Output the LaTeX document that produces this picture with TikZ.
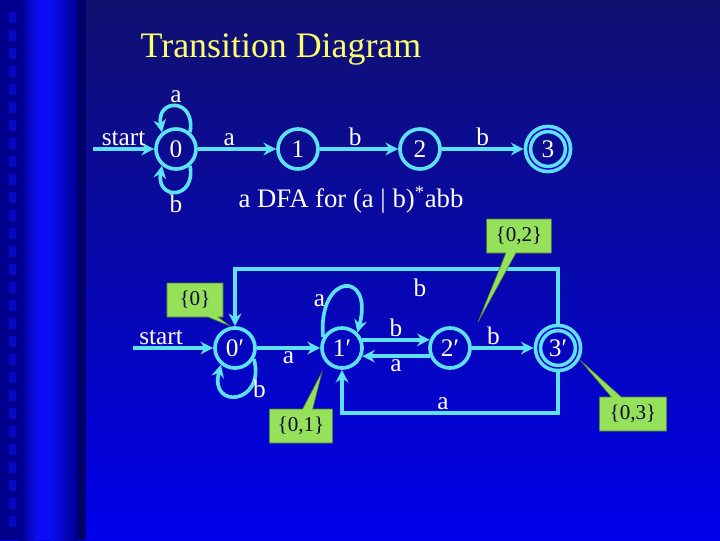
\documentclass[tikz,border=0pt]{standalone}
\usepackage{fontspec}
\setmainfont{Liberation Serif}
\definecolor{slideNavy}{RGB}{16,16,112}
\definecolor{slideBlue}{RGB}{0,0,236}
\definecolor{stripDark}{RGB}{0,0,140}
\definecolor{stripBright}{RGB}{12,12,245}
\definecolor{stateCyan}{RGB}{95,225,245}
\definecolor{noteGreen}{RGB}{150,225,90}
\definecolor{titleYellow}{RGB}{255,255,110}
\usetikzlibrary{arrows.meta,shapes.callouts,calc}

\begin{document}
\begin{tikzpicture}[x=0.025cm,y=-0.025cm,
  state/.style={circle,draw=stateCyan,line width=2.6pt,minimum size=1cm,inner sep=0pt,
    text=white,font=\fontsize{18}{20}\selectfont},
  final/.style={state,double=slideBlue!75!slideNavy,double distance=1pt,outer sep=3.1pt},
  edge/.style={draw=stateCyan,line width=2.6pt,-{Stealth[length=9pt,width=9pt]}},
  lbl/.style={text=white,font=\fontsize{18}{20}\selectfont,inner sep=1pt},
  note/.style={rectangle callout,fill=noteGreen,draw=noteGreen!55!black,line width=0.4pt,
    text=slideNavy!50!black,font=\fontsize{15}{17}\selectfont,minimum height=0.85cm,minimum width=1.4cm}]
  \useasboundingbox (0,0) rectangle (720,540);
  % background of the slide
  \shade[top color=slideNavy,bottom color=slideBlue] (0,0) rectangle (720,540);
  \fill[stripDark] (0,0) rectangle (20,540);
  \shade[left color=stripDark,right color=stripBright] (20,0) rectangle (38,540);
  \fill[stripBright] (38,0) rectangle (50,540);
  \shade[left color=stripBright,right color=stripDark] (50,0) rectangle (78,540);
  \fill[stripDark!75!black] (78,0) rectangle (86,540);
  \foreach \y in {12,30,...,530}
    \fill[stripBright!55!stripDark] (9,\y) rectangle (16,\y+11);

  % title
  \node[text=titleYellow,font=\fontsize{25.5}{30}\selectfont] (title) at (281,49) {Transition Diagram};

  % upper DFA
  \coordinate (in0) at (93,149);
  \node[state] (s0) at (176,149) {0};
  \node[state] (s1) at (298,149) {1};
  \node[state] (s2) at (420,149) {2};
  \node[final] (s3) at (548,149) {3};
  \draw[edge] (in0) -- node[lbl,above] (lstart) {start} (s0);
  \draw[edge] (s0.50) to[out=80,in=100,looseness=3.2] node[lbl,above] (l00a) {a} (s0.130);
  \draw[edge] (s0.-50) to[out=-80,in=-100,looseness=3.2] node[lbl,below] (l00b) {b} (s0.-130);
  \draw[edge] (s0) -- node[lbl,above,pos=0.4] (l01) {a} (s1);
  \draw[edge] (s1) -- node[lbl,above,pos=0.45] (l12) {b} (s2);
  \draw[edge] (s2) -- node[lbl,above,pos=0.5] (l23) {b} (s3);
  \node[lbl,font=\fontsize{19}{22}\selectfont] (caption) at (351,200) {a DFA for (a | b)\textsuperscript{*}abb};

  % lower DFA
  \coordinate (in1) at (133,348);
  \node[state] (q0) at (235,348) {0′};
  \node[state] (q1) at (342,348) {1′};
  \node[state] (q2) at (450,348) {2′};
  \node[final] (q3) at (558,348) {3′};
  \draw[edge] (in1) -- node[lbl,above,pos=0.35] (lstart2) {start} (q0);
  \draw[edge] (q0.-30) to[out=-75,in=-105,looseness=3.6] node[lbl,right,pos=0.3] (lq00) {b} (q0.-130);
  \draw[edge] (q0) -- node[lbl,below] (lq01) {a} (q1);
  \draw[edge] (q1.150) to[out=95,in=75,looseness=4.8] node[lbl,left,pos=0.25] (lq11) {a} (q1.45);
  \draw[edge] (q1.22) -- node[lbl,above] (lq12) {b} (q2.158);
  \draw[edge] (q2.-158) -- node[lbl,below] (lq21) {a} (q1.-22);
  \draw[edge] (q2) -- node[lbl,above,pos=0.35] (lq23) {b} (q3);
  \coordinate (topb) at (420,269);
  \coordinate (bota) at (443,413);
  \draw[edge] (q3.north) |- (topb) node[lbl,below=5pt] (lq30) {b} -| (q0.north);
  \draw[edge] (q3.south) |- (bota) node[lbl,above] (lq31) {a} -| (q1.south);

  % subset notes
  \coordinate (tip0) at (230,326);
  \coordinate (tip01) at (322,372);
  \coordinate (tip02) at (478,322);
  \coordinate (tip03) at (580,360);
  \node[note,callout absolute pointer={(tip0)}] (n0) at (195,300) {\{0\}};
  \node[note,callout absolute pointer={(tip01)},minimum width=1.58cm] (n01) at (301,426) {\{0,1\}};
  \node[note,callout absolute pointer={(tip02)},minimum width=1.62cm] (n02) at (519,236) {\{0,2\}};
  \node[note,callout absolute pointer={(tip03)},minimum width=1.68cm] (n03) at (633,414) {\{0,3\}};
\end{tikzpicture}
\end{document}
